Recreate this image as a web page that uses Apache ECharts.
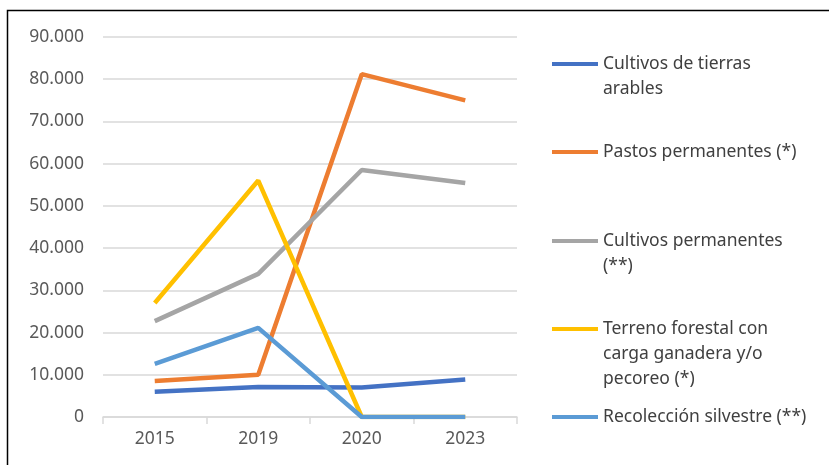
<!DOCTYPE html>
<html><head><meta charset="utf-8">
<script src="https://cdn.jsdelivr.net/npm/echarts@6/dist/echarts.min.js"></script>
<style>html,body{margin:0;padding:0;background:#fff}#c{width:829px;height:465px}</style>
</head><body><div id="c"></div>
<script>
const categories = ['2015', '2019', '2020', '2023'];
const seriesNames = ['Cultivos de tierras arables', 'Pastos permanentes (*)', 'Cultivos permanentes (**)', 'Terreno forestal con carga ganadera y/o pecoreo (*)', 'Recolección silvestre (**)'];
const legendLabels = ['Cultivos de tierras\narables', 'Pastos permanentes (*)', 'Cultivos permanentes\n(**)', 'Terreno forestal con\ncarga ganadera y/o\npecoreo (*)', 'Recolección silvestre (**)'];
const arables = [6000, 7100, 7000, 8900];
const pastos = [8500, 10000, 81200, 75000];
const permanentes = [22700, 33900, 58500, 55400];
const forestal = [27000, 56000, 0, 0];
const recoleccion = [12600, 21100, 0, 0];
const colors = ['#4472C4', '#ED7D31', '#A5A5A5', '#FFC000', '#5B9BD5'];
const yTicks = [0, 10000, 20000, 30000, 40000, 50000, 60000, 70000, 80000, 90000];
const values = [arables, pastos, permanentes, forestal, recoleccion];

const font = 'Noto Sans, sans-serif';
const legendTops = [64, 152, 241, 329, 417];
const chart = echarts.init(document.getElementById('c'));
chart.setOption({
  animation: false,
  graphic: [{type: 'rect', shape: {x: 7.5, y: 10.5, width: 900, height: 600}, style: {fill: 'none', stroke: '#000', lineWidth: 1.5}, silent: true}],
  grid: {left: 103, right: 312, top: 37, bottom: 48},
  xAxis: {
    type: 'category', data: categories, boundaryGap: true,
    axisLine: {lineStyle: {color: '#D9D9D9', width: 1.5}},
    axisTick: {show: true, length: 7, lineStyle: {color: '#D9D9D9', width: 1.5}},
    axisLabel: {color: '#595959', fontSize: 17.5, fontFamily: font, margin: 13}
  },
  yAxis: {
    type: 'value', min: 0, max: 90000, interval: 10000,
    axisLine: {show: false}, axisTick: {show: false},
    splitLine: {lineStyle: {color: '#D9D9D9', width: 1.5}},
    axisLabel: {color: '#595959', fontSize: 17.5, fontFamily: font, margin: 19,
      formatter: v => yTicks.includes(v) ? (v === 0 ? '0' : (v / 1000) + '.000') : ''}
  },
  legend: seriesNames.map((n, i) => {
    const lines = legendLabels[i].split('\n').length;
    const pre = '\n'.repeat(lines - 1);
    return {
      data: [n], orient: 'vertical', left: 552,
      top: legendTops[i] - (2 * lines - 1) * 25 / 2,
      icon: 'rect', itemWidth: 46, itemHeight: 4, itemGap: 0, padding: 0,
      formatter: () => pre + legendLabels[i],
      textStyle: {color: '#404040', fontSize: 17.5, fontFamily: font, lineHeight: 25}
    };
  }),
  series: seriesNames.map((n, i) => ({
    name: n, type: 'line', data: values[i], symbol: 'none',
    lineStyle: {color: colors[i], width: 4.5}, itemStyle: {color: colors[i]}
  }))
});
</script></body></html>
